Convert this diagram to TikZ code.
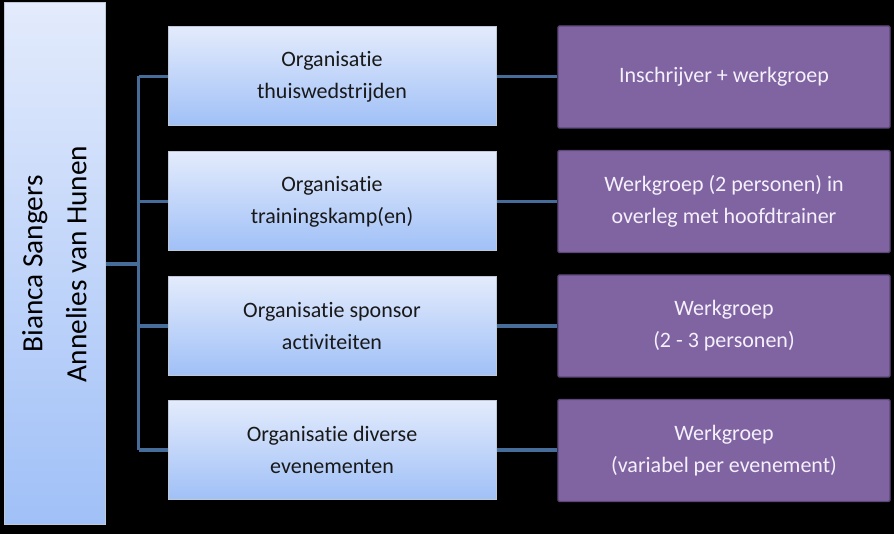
\documentclass[tikz,border=0pt]{standalone}
\usepackage{fontspec}
\setmainfont{Carlito}[Ligatures=NoCommon]
\definecolor{linkblue}{RGB}{70,108,154}
\definecolor{boxtop}{RGB}{227,235,252}
\definecolor{boxbottom}{RGB}{160,192,247}
\definecolor{boxline}{RGB}{190,200,215}
\definecolor{teamfill}{RGB}{128,100,162}
\definecolor{teamline}{RGB}{92,72,120}
\definecolor{teamtext}{RGB}{244,240,252}
\usetikzlibrary{positioning,calc}

\begin{document}
\begin{tikzpicture}[x=0.75pt,y=0.75pt,yscale=-1,xscale=1,
	leadbox/.style={draw=boxline, line width=0.75, top color=boxtop, bottom color=boxbottom, minimum width=75.75pt, minimum height=391.5pt, inner sep=0pt, font=\fontsize{22}{33}\selectfont, align=center},
	taskbox/.style={draw=boxline, line width=0.75, top color=boxtop, bottom color=boxbottom, minimum width=246pt, minimum height=74.25pt, inner sep=0pt, font=\fontsize{16.5}{24}\selectfont, text=black!90, align=center},
	teambox/.style={draw=teamline, line width=1.1, fill=teamfill, rounded corners=1pt, minimum width=249pt, minimum height=76.5pt, inner sep=0pt, font=\fontsize{16.5}{24}\selectfont, text=teamtext, align=center},
	link/.style={draw=linkblue, line width=2.6}]
	
	%background
	\fill[black] (0,0) rectangle (894,534);
	\useasboundingbox (0,0) rectangle (894,534);
	
	%Lead
	\node[leadbox] (lead) at (54.5,264) {};
	\node[rotate=90, align=center, font=\fontsize{22}{33}\selectfont] (names) at (lead.center) {Bianca Sangers\\Annelies van Hunen};
	
	%Tasks
	\node[taskbox] (task1) at (332,76.5) {Organisatie\\thuiswedstrijden};
	\node[taskbox] (task2) at (332,201.5) {Organisatie\\trainingskamp(en)};
	\node[taskbox] (task3) at (332,326) {Organisatie sponsor\\activiteiten};
	\node[taskbox] (task4) at (332,450) {Organisatie diverse\\evenementen};
	
	%Teams
	\node[teambox] (team1) at (724,77) {Inschrijver + werkgroep};
	\node[teambox] (team2) at (724,201.5) {Werkgroep (2 personen) in\\overleg met hoofdtrainer};
	\node[teambox] (team3) at (724,326) {Werkgroep\\(2 - 3 personen)};
	\node[teambox] (team4) at (724,450.5) {Werkgroep\\(variabel per evenement)};
	
	%Connectors
	\draw[link] (lead.east) -- ++(33,0) coordinate (fork);
	\draw[link] (task1.west -| fork) -- (task4.west -| fork);
	\foreach \i in {1,...,4} {
		\draw[link] (task\i.west -| fork) -- (task\i.west);
		\draw[link] (task\i.east) -- (team\i.west |- task\i.east);
	}
	
\end{tikzpicture}
\end{document}
